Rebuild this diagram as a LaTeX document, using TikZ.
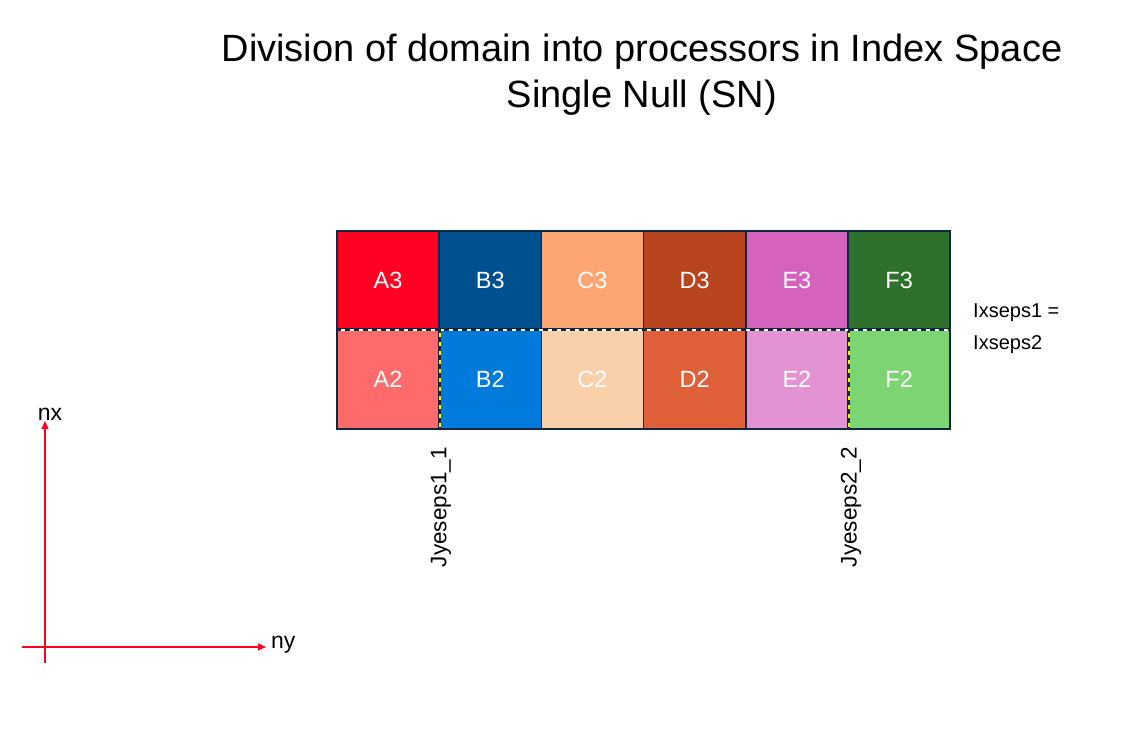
\documentclass[tikz,border=0pt]{standalone}
\usepackage{fontspec}
\setmainfont{Liberation Sans}
\usetikzlibrary{arrows.meta}
\definecolor{navy}{HTML}{0E2841}
\definecolor{cA3}{HTML}{FF0022}
\definecolor{cB3}{HTML}{00508F}
\definecolor{cC3}{HTML}{FCA673}
\definecolor{cD3}{HTML}{B94420}
\definecolor{cE3}{HTML}{D563BE}
\definecolor{cF3}{HTML}{2F712C}
\definecolor{cA2}{HTML}{FF6B6B}
\definecolor{cB2}{HTML}{007ADB}
\definecolor{cC2}{HTML}{FAD0AA}
\definecolor{cD2}{HTML}{E0603A}
\definecolor{cE2}{HTML}{E393D3}
\definecolor{cF2}{HTML}{7DD472}
\definecolor{axisred}{HTML}{FF0022}
\definecolor{sepyellow}{HTML}{FFF200}
\begin{document}
\begin{tikzpicture}[x=1pt,y=-1pt,
  cell/.style={draw=navy, line width=1.5pt, minimum width=102.2pt, inner sep=0pt,
    text=white, font=\fontsize{23.5}{28}\selectfont},
  toprow/.style={cell, minimum height=98pt},
  botrow/.style={cell, minimum height=100pt},
  lbl/.style={font=\fontsize{20}{24}\selectfont, text=black, inner sep=0pt},
  axis/.style={draw=axisred, line width=1.3pt, -{Triangle[length=8pt,width=7pt]}},
]
\path[use as bounding box] (0,0) rectangle (1146,733);

\node[font=\fontsize{38}{46}\selectfont, align=center, anchor=base, inner sep=0pt] (title) at (642,108)
  {Division of domain into processors in Index Space\\Single Null (SN)};

% top row
\node[toprow, fill=cA3] (A3) at (388.1,280) {A3};
\node[toprow, fill=cB3] (B3) at (490.3,280) {B3};
\node[toprow, fill=cC3] (C3) at (592.5,280) {C3};
\node[toprow, fill=cD3] (D3) at (694.7,280) {D3};
\node[toprow, fill=cE3] (E3) at (796.9,280) {E3};
\node[toprow, fill=cF3] (F3) at (899.1,280) {F3};
% bottom row
\node[botrow, fill=cA2] (A2) at (388.1,379) {A2};
\node[botrow, fill=cB2] (B2) at (490.3,379) {B2};
\node[botrow, fill=cC2] (C2) at (592.5,379) {C2};
\node[botrow, fill=cD2] (D2) at (694.7,379) {D2};
\node[botrow, fill=cE2] (E2) at (796.9,379) {E2};
\node[botrow, fill=cF2] (F2) at (899.1,379) {F2};

% separatrix lines
\draw[white, line width=2pt] (A3.south west) -- (F3.south east);
\draw[navy, line width=2pt, dash pattern=on 5pt off 4pt] (A3.south west) -- (F3.south east);
\draw[sepyellow, line width=2pt] (A2.north east) -- (A2.south east);
\draw[navy, line width=2pt, dash pattern=on 5pt off 4pt] (A2.north east) -- (A2.south east);
\draw[sepyellow, line width=2pt] (E2.north east) -- (E2.south east);
\draw[navy, line width=2pt, dash pattern=on 5pt off 4pt] (E2.north east) -- (E2.south east);

\node[lbl, anchor=west, align=left, font=\fontsize{20}{32}\selectfont] (ix) at (973,329) {Ixseps1 =\\Ixseps2};

\node[lbl, rotate=90, font=\fontsize{22.5}{26}\selectfont] (j1) at (441,507) {Jyeseps1\_1};
\node[lbl, rotate=90, font=\fontsize{22.5}{26}\selectfont] (j2) at (851,507) {Jyeseps2\_2};

% axes
\coordinate (ybot) at (45,663);
\coordinate (ytop) at (45,421);
\coordinate (xleft) at (22,647);
\coordinate (xright) at (266,647);
\draw[axis] (ybot) -- (ytop);
\draw[axis] (xleft) -- (xright);
\node[lbl, anchor=south, font=\fontsize{23}{27}\selectfont] (nx) at (50,421) {nx};
\node[lbl, anchor=west, font=\fontsize{23}{27}\selectfont] (ny) at (271,645) {ny};
\end{tikzpicture}
\end{document}
